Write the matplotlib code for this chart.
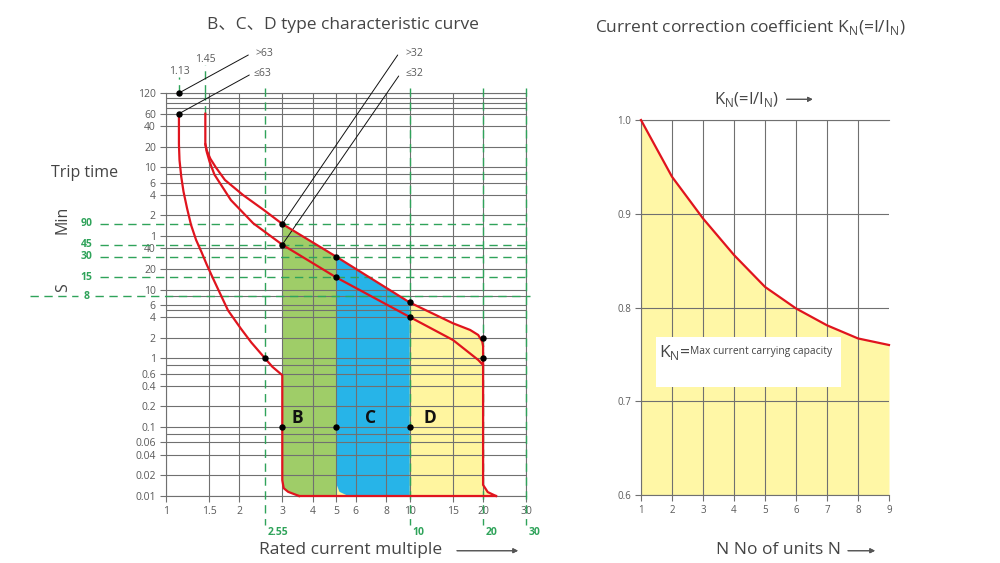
import matplotlib
matplotlib.use('Agg')
import matplotlib.pyplot as plt
from matplotlib.ticker import FixedLocator, NullLocator
from matplotlib.patches import Rectangle

plt.rcParams['font.family'] = ['Open Sans', 'Noto Sans CJK SC', 'DejaVu Sans']
plt.rcParams['mathtext.fontset'] = 'custom'
plt.rcParams['mathtext.rm'] = 'Open Sans'

GRID = '#707070'
RED = '#e0141e'
GREEN = '#2fa35a'
TXT = '#444444'
TICK = '#5a5a5a'

# ---- left chart: trip time (s) against rated current multiple
x_ticks = [1, 1.5, 2, 3, 4, 5, 6, 8, 10, 15, 20, 30]
x_labels = ['1', '1.5', '2', '3', '4', '5', '6', '8', '10', '15', '20', '30']
y_ticks = [7200, 3600, 2400, 1200, 600, 360, 240, 120, 60, 40, 20, 10, 6, 4, 2, 1,
           0.6, 0.4, 0.2, 0.1, 0.06, 0.04, 0.02, 0.01]
y_labels = ['120', '60', '40', '20', '10', '6', '4', '2', '1', '40', '20', '10', '6', '4',
            '2', '1', '0.6', '0.4', '0.2', '0.1', '0.06', '0.04', '0.02', '0.01']
y_minor = [6000, 5200, 4300, 480, 8, 5, 0.8, 0.08]

# curve starting at 1.13 In, ending on B instantaneous trip (3 In)
left_x = [1.13, 1.13, 1.136, 1.155, 1.18, 1.22, 1.267, 1.329, 1.399, 1.47, 1.56, 1.674,
          1.796, 2.03, 2.24, 2.55, 2.73, 3.0, 3.0, 3.04, 3.17, 3.52]
left_y = [3600, 1300, 765, 437, 265, 152, 87, 52.6, 35, 23, 14.5, 8.5,
          5.0, 2.7, 1.7, 1.0, 0.757, 0.57, 0.017, 0.013, 0.0115, 0.01]

# curves starting at 1.45 In: upper (>32) and lower (<=32)
upper_x = [1.45, 1.45, 1.47, 1.52, 1.6, 1.745, 2.07, 2.51, 3, 5, 10, 15.05, 17.7, 19.1,
           19.85, 20, 20, 20.9, 22.6]
upper_y = [3600, 1300, 1050, 800, 600, 392, 237, 145, 90, 30, 6.5, 3.24, 2.59, 2.19,
           1.75, 1.5, 0.0145, 0.0114, 0.01]
lower_x = [1.45, 1.47, 1.51, 1.58, 1.846, 2.28, 3, 5, 10, 15.05, 19.1, 20]
lower_y = [1300, 1000, 720, 470, 200, 92, 45, 15, 4, 1.85, 0.95, 0.8]

bottom_x = [3.52, 22.6]
bottom_y = [0.01, 0.01]

blue_x = [5, 10, 10, 5.6, 5.15, 5]
blue_y = [30, 6.5, 0.01, 0.01, 0.0115, 0.015]

dots_x = [1.13, 1.13, 3, 3, 5, 5, 10, 10, 20, 20, 2.55, 3, 5, 10]
dots_y = [7200, 3600, 90, 45, 30, 15, 6.5, 4, 2, 1, 1, 0.1, 0.1, 0.1]

mark_s = [90, 45, 30, 15, 8]
mark_s_labels = ['90', '45', '30', '15', '8']
mark_x = [2.55, 10, 20, 30]
mark_x_labels = ['2.55', '10', '20', '30']

# ---- right chart: correction coefficient
units = [1, 2, 3, 4, 5, 6, 7, 8, 9]
k_n = [1.0, 0.9395, 0.895, 0.856, 0.822, 0.799, 0.781, 0.767, 0.76]
k_ticks = [0.6, 0.7, 0.8, 0.9, 1.0]

fig = plt.figure(figsize=(10, 5.63), dpi=100)

# ================= left chart =================
ax = fig.add_axes([0.166, 0.119, 0.360, 0.7158])
ax.set_xscale('log')
ax.set_yscale('log')
ax.set_xlim(1, 30)
ax.set_ylim(0.01, 7200)
ax.set_axisbelow(False)

ax.xaxis.set_major_locator(FixedLocator(x_ticks))
ax.xaxis.set_minor_locator(NullLocator())
ax.set_xticklabels(x_labels)
ax.yaxis.set_major_locator(FixedLocator(y_ticks))
ax.yaxis.set_minor_locator(FixedLocator(y_minor))
ax.set_yticklabels(y_labels)
ax.tick_params(axis='both', which='major', length=4.3, width=0.8, color=GRID,
               labelsize=7.5, labelcolor=TICK, pad=3)
ax.tick_params(axis='y', which='minor', length=0)
ax.grid(True, axis='x', which='major', color=GRID, lw=0.8)
ax.grid(True, axis='y', which='both', color=GRID, lw=0.8)
for s in ax.spines.values():
    s.set_color(GRID)
    s.set_linewidth(0.8)

# fills: yellow underlay, then green (B) and blue (C)
i3 = upper_y.index(90)
j3 = left_y.index(0.57)
i5 = upper_y.index(30)
ax.fill(upper_x[i3:] + left_x[j3:][::-1], upper_y[i3:] + left_y[j3:][::-1],
        color='#fff59f', lw=0, zorder=1)
ax.fill(upper_x[i3:i5 + 1] + [5] + left_x[j3:][::-1],
        upper_y[i3:i5 + 1] + [0.01] + left_y[j3:][::-1],
        color='#9fcd68', lw=0, zorder=1.2)
ax.fill(blue_x, blue_y, color='#27b4e8', lw=0, zorder=1.3)

# green guide lines
ytr = ax.get_yaxis_transform()
xtr = ax.get_xaxis_transform()
dash = dict(color=GREEN, lw=1.0, ls=(0, (6, 4)), clip_on=False, zorder=3)
for v, lab in zip(mark_s, mark_s_labels):
    if lab == '8':
        ax.plot([-0.378, -0.245], [v, v], transform=ytr, **dash)
        ax.plot([-0.198, 1.011], [v, v], transform=ytr, **dash)
    else:
        ax.plot([-0.183, 1.011], [v, v], transform=ytr, **dash)
    ax.text(-0.22, v, lab, transform=ytr, ha='center', va='center', color=GREEN,
            fontsize=7.5, fontweight='bold')
for v, lab in zip(mark_x, mark_x_labels):
    ax.plot([v, v], [1.012, -0.072], transform=xtr, **dash)
    ax.annotate(lab, xy=(v, 0), xycoords=xtr, xytext=(3, -36), textcoords='offset pixels',
                ha='left', va='center', color=GREEN, fontsize=7.5, fontweight='bold')
ax.plot([1.13, 1.13], [1.0, 1.04], transform=xtr, **dash)
ax.plot([1.45, 1.45], [3600, 7200], **dash)
ax.plot([1.45, 1.45], [1.0, 1.07], transform=xtr, **dash)
ax.text(1.13, 1.053, '1.13', transform=xtr, ha='center', va='center', color=TICK, fontsize=7.5)
ax.text(1.45, 1.082, '1.45', transform=xtr, ha='center', va='center', color=TICK, fontsize=7.5)

# red curves
red = dict(color=RED, lw=1.6, zorder=4, solid_joinstyle='round', clip_on=False)
ax.plot(left_x, left_y, **red)
ax.plot(upper_x, upper_y, **red)
ax.plot(lower_x, lower_y, **red)
ax.plot(bottom_x, bottom_y, **red)

ax.plot(dots_x, dots_y, 'o', color='black', ms=3.6, zorder=6, clip_on=False)

# leader lines to the rating labels
lead = dict(arrowstyle='-', color='#111111', lw=0.7, shrinkA=0, shrinkB=0)
ax.annotate('', xy=(1.13, 7200), xytext=(0.2483, 0.9023), textcoords='figure fraction', arrowprops=lead)
ax.annotate('', xy=(1.13, 3600), xytext=(0.2493, 0.8668), textcoords='figure fraction', arrowprops=lead)
ax.annotate('', xy=(3, 90), xytext=(0.3977, 0.9023), textcoords='figure fraction', arrowprops=lead)
ax.annotate('', xy=(3, 45), xytext=(0.3987, 0.865), textcoords='figure fraction', arrowprops=lead)
fig.text(0.255, 0.9053, '>63', color=TICK, fontsize=7.5, va='center')
fig.text(0.253, 0.8686, '≤63', color=TICK, fontsize=7.5, va='center')
fig.text(0.406, 0.9053, '>32', color=TICK, fontsize=7.5, va='center')
fig.text(0.406, 0.8686, '≤32', color=TICK, fontsize=7.5, va='center')

for lab, xx in zip(['B', 'C', 'D'], [3.46, 6.9, 12.1]):
    ax.text(xx, 0.137, lab, ha='center', va='center', fontsize=12.5, fontweight='bold',
            color='#111111', zorder=6)

fig.text(0.343, 0.9556, 'B、C、D type characteristic curve', ha='center', va='center',
         fontsize=12.5, color=TXT)
fig.text(0.085, 0.6927, 'Trip time', ha='center', va='center', fontsize=11.5, color=TXT)
fig.text(0.063, 0.609, 'Min', ha='center', va='center', rotation=90, fontsize=11.5, color=TXT)
fig.text(0.063, 0.490, 'S', ha='center', va='center', rotation=90, fontsize=11.5, color=TXT)
fig.text(0.351, 0.0231, 'Rated current multiple', ha='center', va='center', fontsize=12.5, color=TXT)

arrow = dict(arrowstyle='-|>', color='#555555', lw=0.8, mutation_scale=7, shrinkA=0, shrinkB=0)
fig.add_artist(plt.annotate('', xy=(0.518, 0.0218), xytext=(0.457, 0.0218),
                            xycoords='figure fraction', arrowprops=arrow))

# ================= right chart =================
ax2 = fig.add_axes([0.641, 0.1208, 0.248, 0.666])
ax2.set_xlim(1, 9)
ax2.set_ylim(0.6, 1.0)
ax2.set_axisbelow(False)
ax2.set_xticks(units)
ax2.set_yticks(k_ticks)
ax2.set_yticklabels([f'{v:.1f}' for v in k_ticks])
ax2.tick_params(axis='both', length=4, width=0.8, color=GRID, labelsize=7, labelcolor=TICK, pad=3)
ax2.grid(True, color=GRID, lw=0.8)
ax2.xaxis.get_gridlines()[-1].set_visible(False)
for side, s in ax2.spines.items():
    s.set_color(GRID)
    s.set_linewidth(0.8)
ax2.spines['right'].set_visible(False)

ax2.fill_between(units, 0.6, k_n, color='#fff7a6', lw=0, zorder=1)
ax2.plot(units, k_n, color=RED, lw=1.6, zorder=4, clip_on=False, solid_joinstyle='round')

ax2.add_patch(Rectangle((0.0605, 0.287), 0.746, 0.135, transform=ax2.transAxes,
                        facecolor='white', edgecolor='none', zorder=5))
fig.text(0.659, 1 - 357 / 563, r'K$_\mathregular{N}$=', fontsize=12.5, color=TXT,
         va='baseline', zorder=6)
fig.text(0.6895, 1 - 354 / 563, 'Max current carrying capacity', fontsize=7.4, color=TXT,
         va='baseline', zorder=6)

fig.text(0.750, 0.9503, r'Current correction coefficient K$_\mathregular{N}$(=I/I$_\mathregular{N}$)',
         ha='center', va='center', fontsize=12.5, color=TXT)
fig.text(0.7465, 0.8236, r'K$_\mathregular{N}$(=I/I$_\mathregular{N}$)', ha='center', va='center',
         fontsize=12, color=TXT)
fig.add_artist(plt.annotate('', xy=(0.8127, 0.8236), xytext=(0.7867, 0.8236),
                            xycoords='figure fraction', arrowprops=arrow))
fig.text(0.7785, 0.0231, 'N No of units N', ha='center', va='center', fontsize=12.5, color=TXT)
fig.add_artist(plt.annotate('', xy=(0.875, 0.0218), xytext=(0.848, 0.0218),
                            xycoords='figure fraction', arrowprops=arrow))

fig.savefig('out.png', dpi=100)
